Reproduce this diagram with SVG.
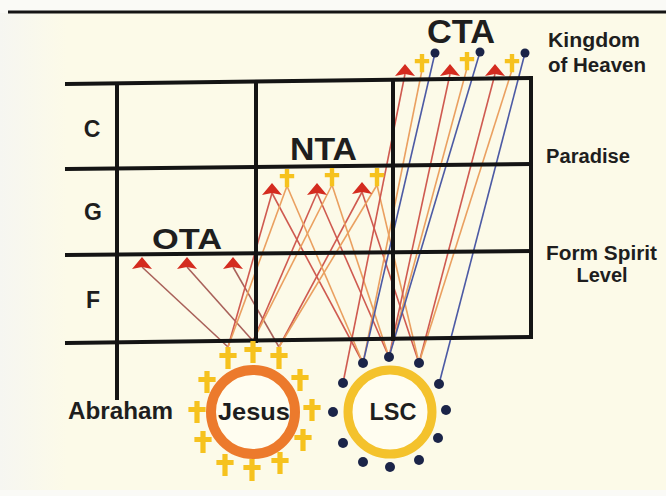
<svg xmlns="http://www.w3.org/2000/svg" width="666" height="496" viewBox="0 0 666 496">
<defs>
<linearGradient id="bg" x1="0" y1="0" x2="1" y2="0">
<stop offset="0" stop-color="#f6f6f1"/>
<stop offset="0.1" stop-color="#fcfae8"/>
<stop offset="1" stop-color="#fcfae8"/>
</linearGradient>
<path id="crossL" d="M-2.6,-11 h5.2 v6 h6 v5 h-6 v11 h-5.2 v-11 h-6 v-5 h6 z"/>
<path id="crossS" d="M-2.2,-9 h4.4 v5 h5 v4.2 h-5 v9 h-4.4 v-9 h-5 v-4.2 h5 z"/>
<path id="tri" d="M0,-7 L10,5 L0,3 L-10,5 Z"/>
</defs>
<style>
.lbl{font-family:"Liberation Sans",Arial,sans-serif;font-weight:bold;fill:#1e1e1e}
.grid{stroke:#141414;stroke-width:4;fill:none;stroke-linecap:square}
.ota{stroke:#a9615a;stroke-width:1.6;fill:none}
.rl{stroke:#cf5a50;stroke-width:1.6;fill:none}
.ol{stroke:#eaa060;stroke-width:1.6;fill:none}
.bl{stroke:#4c5aa4;stroke-width:1.6;fill:none}
.tri{fill:#d42b1f}
.cross{fill:#f6c21e}
.dot{fill:#1b2448}
</style>
<rect x="0" y="0" width="666" height="496" fill="#fafaf6"/>
<rect x="0" y="13" width="666" height="477" fill="url(#bg)"/>
<line x1="8" y1="12" x2="666" y2="12" stroke="#141414" stroke-width="3"/>

<g id="connectors">
<line class="ota" x1="142" y1="267" x2="228" y2="347"/>
<line class="ota" x1="187" y1="267" x2="253" y2="341"/>
<line class="ota" x1="233" y1="267" x2="279" y2="347"/>
<line class="rl" x1="272" y1="193" x2="228" y2="347"/>
<line class="rl" x1="272" y1="193" x2="363" y2="363"/>
<line class="rl" x1="317" y1="193" x2="253" y2="341"/>
<line class="rl" x1="317" y1="193" x2="389" y2="357"/>
<line class="rl" x1="362" y1="192" x2="279" y2="347"/>
<line class="rl" x1="362" y1="192" x2="419" y2="363"/>
<line class="ol" x1="287" y1="186" x2="228" y2="347"/>
<line class="ol" x1="287" y1="186" x2="363" y2="363"/>
<line class="ol" x1="332" y1="185" x2="253" y2="341"/>
<line class="ol" x1="332" y1="185" x2="389" y2="357"/>
<line class="ol" x1="377" y1="185" x2="279" y2="347"/>
<line class="ol" x1="377" y1="185" x2="419" y2="363"/>
<line class="rl" x1="405" y1="74" x2="343" y2="383"/>
<line class="ol" x1="422" y1="70" x2="363" y2="363"/>
<line class="bl" x1="435" y1="53" x2="363" y2="363"/>
<line class="rl" x1="450" y1="74" x2="389" y2="357"/>
<line class="ol" x1="467" y1="68" x2="389" y2="357"/>
<line class="bl" x1="480" y1="52" x2="389" y2="357"/>
<line class="rl" x1="495" y1="74" x2="419" y2="363"/>
<line class="ol" x1="512" y1="70" x2="419" y2="363"/>
<line class="bl" x1="525" y1="53" x2="439" y2="384"/>
</g>

<g id="grid">
<line class="grid" x1="67" y1="84" x2="531" y2="78"/>
<line class="grid" x1="67" y1="169" x2="531" y2="164"/>
<line class="grid" x1="67" y1="255" x2="531" y2="251"/>
<line class="grid" x1="67" y1="343" x2="531" y2="337"/>
<line class="grid" x1="117" y1="84" x2="117" y2="398"/>
<line class="grid" x1="256" y1="82" x2="256" y2="341"/>
<line class="grid" x1="393" y1="80" x2="393" y2="339"/>
<line class="grid" x1="531" y1="78" x2="531" y2="337"/>
</g>

<g id="row-labels">
<text class="lbl" x="92" y="137" font-size="23" text-anchor="middle">C</text>
<text class="lbl" x="93" y="220" font-size="23" text-anchor="middle">G</text>
<text class="lbl" x="93" y="308" font-size="23" text-anchor="middle">F</text>
</g>

<g id="level-labels">
<text class="lbl" x="548" y="47" font-size="20" textLength="92" lengthAdjust="spacingAndGlyphs">Kingdom</text>
<text class="lbl" x="548" y="72" font-size="20" textLength="98" lengthAdjust="spacingAndGlyphs">of Heaven</text>
<text class="lbl" x="546" y="163" font-size="20" textLength="84" lengthAdjust="spacingAndGlyphs">Paradise</text>
<text class="lbl" x="546" y="260" font-size="20" textLength="111" lengthAdjust="spacingAndGlyphs">Form Spirit</text>
<text class="lbl" x="602" y="282" font-size="20" text-anchor="middle">Level</text>
</g>

<g id="ota">
<text class="lbl" x="152" y="249" font-size="30" textLength="70" lengthAdjust="spacingAndGlyphs">OTA</text>
<use href="#tri" class="tri" x="142" y="264"/>
<use href="#tri" class="tri" x="187" y="264"/>
<use href="#tri" class="tri" x="233" y="264"/>
</g>

<g id="nta">
<text class="lbl" x="290" y="160" font-size="31" textLength="67" lengthAdjust="spacingAndGlyphs">NTA</text>
<use href="#tri" class="tri" x="272" y="190"/>
<use href="#tri" class="tri" x="317" y="190"/>
<use href="#tri" class="tri" x="362" y="189"/>
<use href="#crossS" class="cross" x="287" y="178"/>
<use href="#crossS" class="cross" x="332" y="177"/>
<use href="#crossS" class="cross" x="377" y="177"/>
</g>

<g id="cta">
<text class="lbl" x="427" y="43" font-size="34" textLength="68" lengthAdjust="spacingAndGlyphs">CTA</text>
<use href="#tri" class="tri" x="405" y="71"/>
<use href="#tri" class="tri" x="450" y="71"/>
<use href="#tri" class="tri" x="495" y="71"/>
<use href="#crossS" class="cross" x="422" y="63"/>
<use href="#crossS" class="cross" x="467" y="61"/>
<use href="#crossS" class="cross" x="512" y="63"/>
<circle class="dot" cx="435" cy="53" r="4.5"/>
<circle class="dot" cx="480" cy="52" r="4.5"/>
<circle class="dot" cx="525" cy="53" r="4.5"/>
</g>

<g id="abraham">
<text class="lbl" x="68" y="419" font-size="23" textLength="105" lengthAdjust="spacingAndGlyphs">Abraham</text>
</g>

<g id="jesus">
<circle cx="253" cy="412" r="42" fill="#fffdf0" stroke="#ec7a2c" stroke-width="10"/>
<text class="lbl" x="254" y="420" font-size="24" text-anchor="middle" textLength="72" lengthAdjust="spacingAndGlyphs">Jesus</text>
<use href="#crossL" class="cross" x="228" y="358"/>
<use href="#crossL" class="cross" x="253" y="352"/>
<use href="#crossL" class="cross" x="279" y="358"/>
<use href="#crossL" class="cross" x="207" y="382"/>
<use href="#crossL" class="cross" x="300" y="380"/>
<use href="#crossL" class="cross" x="197" y="412"/>
<use href="#crossL" class="cross" x="312" y="410"/>
<use href="#crossL" class="cross" x="203" y="442"/>
<use href="#crossL" class="cross" x="303" y="440"/>
<use href="#crossL" class="cross" x="225" y="465"/>
<use href="#crossL" class="cross" x="252" y="470"/>
<use href="#crossL" class="cross" x="280" y="463"/>
</g>

<g id="lsc">
<circle cx="390" cy="412" r="42" fill="#fffdf0" stroke="#f4c22c" stroke-width="9"/>
<text class="lbl" x="393" y="420" font-size="23" text-anchor="middle" textLength="47" lengthAdjust="spacingAndGlyphs">LSC</text>
<circle class="dot" cx="363" cy="363" r="5"/>
<circle class="dot" cx="389" cy="357" r="5"/>
<circle class="dot" cx="419" cy="363" r="5"/>
<circle class="dot" cx="343" cy="383" r="5"/>
<circle class="dot" cx="439" cy="384" r="5"/>
<circle class="dot" cx="333" cy="412" r="5"/>
<circle class="dot" cx="446" cy="410" r="5"/>
<circle class="dot" cx="343" cy="443" r="5"/>
<circle class="dot" cx="438" cy="438" r="5"/>
<circle class="dot" cx="363" cy="462" r="5"/>
<circle class="dot" cx="390" cy="467" r="5"/>
<circle class="dot" cx="419" cy="460" r="5"/>
</g>
</svg>
